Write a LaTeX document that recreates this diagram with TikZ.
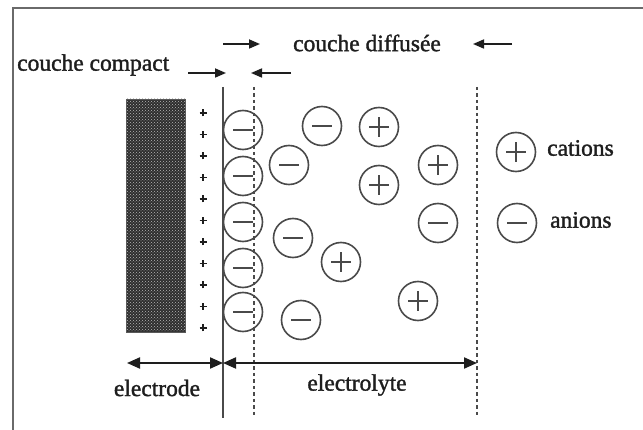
\documentclass[tikz,border=0pt]{standalone}
\usepackage{fontspec}
\setmainfont[FakeBold=1.4]{Liberation Serif}
\usetikzlibrary{arrows.meta,patterns}
\definecolor{ink}{HTML}{1E1E1E}
\definecolor{ionline}{HTML}{4A4A4A}
\definecolor{framegray}{HTML}{6A6A6A}
\definecolor{metal}{HTML}{2E2E2E}
\tikzset{
  lbl/.style={font=\fontsize{23.5}{27}\selectfont, text=ink, inner sep=0pt},
  ionbase/.style={circle, draw=ionline, line width=1.6pt, minimum size=39pt, inner sep=0pt},
  anion/.style={ionbase, path picture={
      \draw[ionline, line width=1.7pt]
        ([xshift=-10pt]path picture bounding box.center) --
        ([xshift=10pt]path picture bounding box.center);}},
  cation/.style={ionbase, path picture={
      \draw[ionline, line width=1.7pt]
        ([xshift=-10pt]path picture bounding box.center) --
        ([xshift=10pt]path picture bounding box.center)
        ([yshift=-10pt]path picture bounding box.center) --
        ([yshift=10pt]path picture bounding box.center);}},
  charge/.style={minimum size=8pt, inner sep=0pt, path picture={
      \draw[ink, line width=1.6pt]
        ([xshift=-3.5pt]path picture bounding box.center) --
        ([xshift=3.5pt]path picture bounding box.center)
        ([yshift=-3.5pt]path picture bounding box.center) --
        ([yshift=3.5pt]path picture bounding box.center);}},
  tiparrow/.style={-{Triangle[length=11pt,width=9pt]}, line width=1.7pt, draw=ink},
  spanarrow/.style={{Triangle[length=13pt,width=11pt]}-{Triangle[length=13pt,width=11pt]}, line width=2pt, draw=ink},
  plane/.style={line width=1.7pt, draw=ionline},
  dashplane/.style={line width=1.8pt, draw=ionline, dash pattern=on 3.5pt off 3pt},
}
\begin{document}
\begin{tikzpicture}[x=1pt, y=-1pt]
\useasboundingbox (0,0) rectangle (643,430);
\fill[white] (0,0) rectangle (643,430);

% open frame (left and top edges)
\draw[framegray, line width=2pt] (13,430) -- (13,8) -- (643,8);

% electrode block
\fill[metal] (126,99) rectangle (185,332);
\fill[pattern=crosshatch dots, pattern color=gray!55] (126,99) rectangle (185,332);
\draw[gray!70!black, line width=0.8pt] (126,99) rectangle (185,332);

% surface charges on the electrode
\foreach \k in {0,...,10} {
  \node[charge] (pc\k) at (203,{113+21.5*\k}) {};
}

% boundary planes
\coordinate (ihpT) at (223,87);  \coordinate (ihpB) at (223,418);
\coordinate (ohpT) at (254,87);  \coordinate (ohpB) at (254,418);
\coordinate (difT) at (477,87);  \coordinate (difB) at (477,418);
\draw[plane] (ihpT) -- (ihpB);
\draw[dashplane] (ohpT) -- (ohpB);
\draw[dashplane] (difT) -- (difB);

% compact layer of anions
\node[anion] (a1) at (243,130) {};
\node[anion] (a2) at (243,176) {};
\node[anion] (a3) at (243,222) {};
\node[anion] (a4) at (243,268) {};
\node[anion] (a5) at (243,312) {};

% diffuse layer
\node[anion]  (d1)  at (322,126) {};
\node[cation] (d2)  at (379,127) {};
\node[anion]  (d3)  at (289,165) {};
\node[cation] (d4)  at (379,185) {};
\node[cation] (d5)  at (438,165) {};
\node[anion]  (d6)  at (438,223) {};
\node[anion]  (d7)  at (293,238) {};
\node[cation] (d8)  at (341,262) {};
\node[cation] (d9)  at (418,301) {};
\node[anion]  (d10) at (301,320) {};

% legend
\node[cation] (lc) at (516,152) {};
\node[lbl, anchor=west] (lct) at (547,148) {cations};
\node[anion] (la) at (517,223) {};
\node[lbl, anchor=west] (lat) at (550,220) {anions};

% layer labels with arrows
\node[lbl] (diff) at (367,43) {couche diffusée};
\node[lbl, anchor=west] (comp) at (17,65) {couche compact};
\coordinate (dR0) at (223,44); \coordinate (dR1) at (260,44);
\coordinate (dL0) at (512,44); \coordinate (dL1) at (473,44);
\coordinate (cR0) at (188,73); \coordinate (cR1) at (226,73);
\coordinate (cL0) at (291,73); \coordinate (cL1) at (251,73);
\draw[tiparrow] (dR0) -- (dR1);
\draw[tiparrow] (dL0) -- (dL1);
\draw[tiparrow] (cR0) -- (cR1);
\draw[tiparrow] (cL0) -- (cL1);

% extents of electrode and electrolyte
\coordinate (eL) at (127,363);
\coordinate (eM) at (223,363);
\coordinate (eR) at (477,363);
\draw[spanarrow] (eL) -- (eM);
\draw[spanarrow] (eM) -- (eR);
\node[lbl] (electrode) at (157,388) {electrode};
\node[lbl] (electrolyte) at (357,385) {electrolyte};
\end{tikzpicture}
\end{document}
